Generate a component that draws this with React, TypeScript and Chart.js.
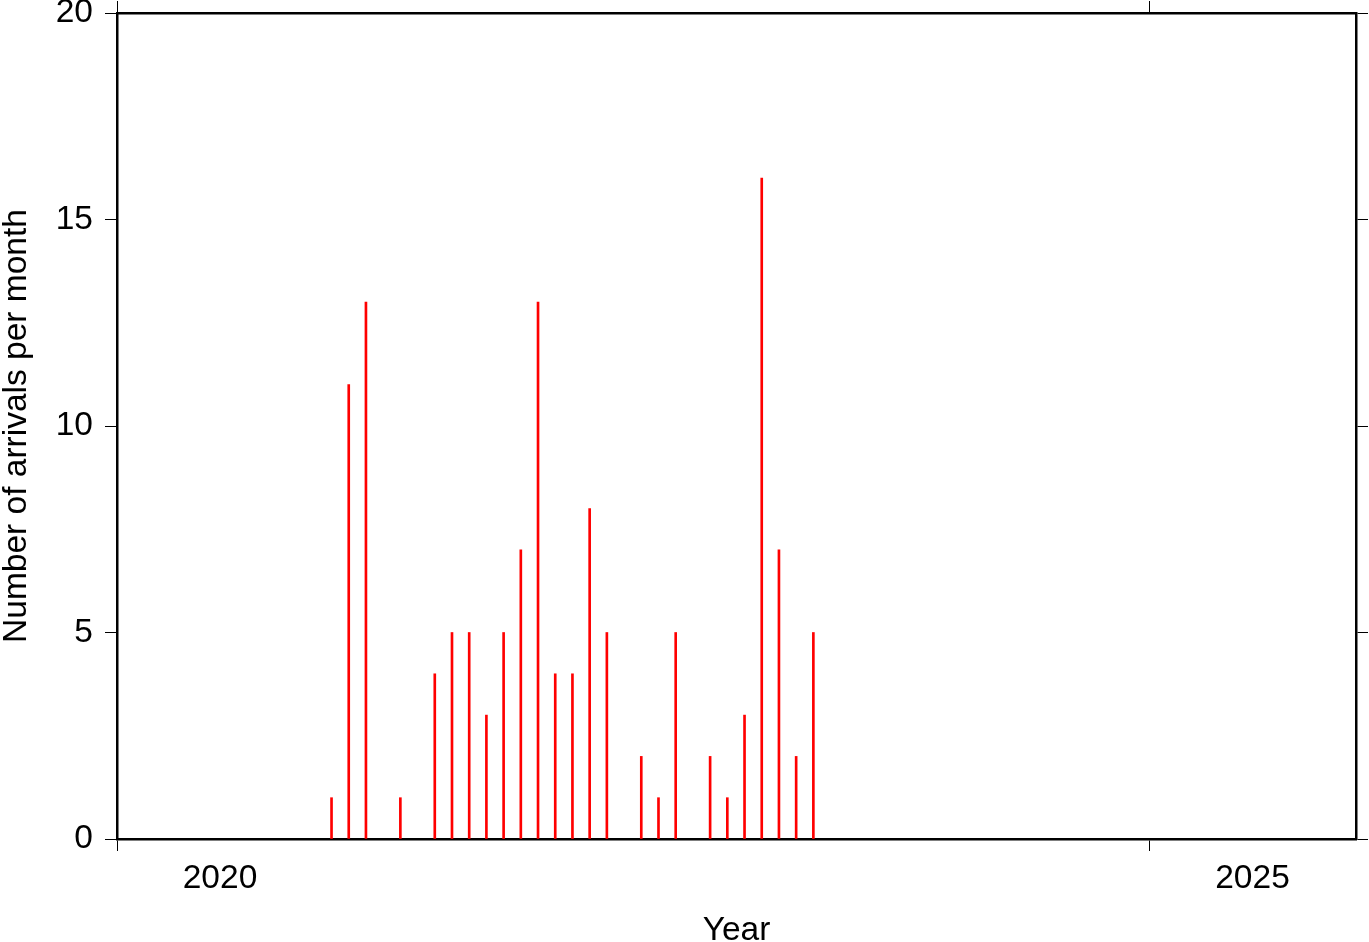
import React, { useEffect, useRef } from "react";
import { Chart, registerables } from "chart.js";

Chart.register(...registerables);

// Month of arrival (YYYY-MM) and number of arrivals in that month
const months: string[] = [
  "2021-01", "2021-02", "2021-03", "2021-05", "2021-07", "2021-08", "2021-09",
  "2021-10", "2021-11", "2021-12", "2022-01", "2022-02", "2022-03", "2022-04",
  "2022-05", "2022-07", "2022-08", "2022-09", "2022-11", "2022-12", "2023-01",
  "2023-02", "2023-03", "2023-04", "2023-05",
];
const arrivals: number[] = [
  1, 11, 13, 1, 4, 5, 5, 3, 5, 7, 13, 4, 4, 8, 5, 2, 1, 5, 2, 1, 3, 16, 7, 2, 5,
];
const xTickYears: number[] = [2020, 2025];
const yTicks: number[] = [0, 5, 10, 15, 20];

const FONT = "'Liberation Sans', Arial, Helvetica, sans-serif";

export default function App() {
  const ref = useRef<HTMLCanvasElement | null>(null);

  useEffect(() => {
    if (!ref.current) return;
    const points = months.map((m, i) => {
      const [y, mo] = m.split("-").map(Number);
      return { x: y + (mo - 1 + 14 / 30) / 12, y: arrivals[i] };
    });
    const font = { family: FONT, size: 33.5 };
    const tickGrid = {
      drawOnChartArea: false,
      drawTicks: true,
      tickLength: 12,
      color: "#000",
      lineWidth: 1,
      offset: false,
    };
    const border = { display: true, color: "#000", width: 2.5 };

    const chart = new Chart(ref.current, {
      type: "bar",
      data: {
        datasets: [
          {
            data: points,
            backgroundColor: "rgb(255,0,0)",
            borderWidth: 0,
            barThickness: 2,
            grouped: false,
          } as any,
        ],
      },
      options: {
        animation: false,
        responsive: false,
        devicePixelRatio: 1,
        layout: { padding: 0 },
        plugins: { legend: { display: false }, tooltip: { enabled: false } },
        scales: {
          x: {
            type: "linear",
            position: "bottom",
            min: 2020,
            max: 2026,
            offset: false,
            afterBuildTicks: (s: any) => {
              s.ticks = xTickYears.map((v) => ({ value: v }));
            },
            afterFit: (s: any) => {
              s.height = 103;
            },
            ticks: {
              font,
              color: "#000",
              labelOffset: 103,
              padding: 8,
              maxRotation: 0,
              callback: (v: any) => String(v),
            },
            grid: tickGrid,
            border,
            title: {
              display: true,
              text: "Year",
              font: { ...font, lineHeight: 1 },
              color: "#000",
              padding: { top: 0, bottom: -6 },
            },
          },
          x2: {
            type: "linear",
            position: "top",
            min: 2020,
            max: 2026,
            offset: false,
            afterBuildTicks: (s: any) => {
              s.ticks = xTickYears.map((v) => ({ value: v }));
            },
            afterFit: (s: any) => {
              s.height = 13;
            },
            ticks: { display: false },
            grid: tickGrid,
            border,
          },
          y: {
            type: "linear",
            position: "left",
            min: 0,
            max: 20,
            afterBuildTicks: (s: any) => {
              s.ticks = yTicks.map((v) => ({ value: v }));
            },
            afterFit: (s: any) => {
              s.width = 117;
              s.paddingTop = 0;
              s.paddingBottom = 0;
            },
            ticks: { font: { ...font, lineHeight: 0.02 }, color: "#000", padding: 12 },
            grid: tickGrid,
            border,
            title: {
              display: true,
              text: "Number of arrivals per month",
              font: { ...font, lineHeight: 1 },
              color: "#000",
              padding: 0,
            },
          },
          y2: {
            type: "linear",
            position: "right",
            min: 0,
            max: 20,
            afterBuildTicks: (s: any) => {
              s.ticks = yTicks.map((v) => ({ value: v }));
            },
            afterFit: (s: any) => {
              s.width = 13;
              s.paddingTop = 0;
              s.paddingBottom = 0;
            },
            ticks: { display: false },
            grid: tickGrid,
            border,
          },
        },
      } as any,
    });
    return () => chart.destroy();
  }, []);

  return (
    <div style={{ position: "absolute", left: 0, top: 0, width: 1369, height: 942, background: "#fff" }}>
      <canvas ref={ref} width={1369} height={942} />
    </div>
  );
}
